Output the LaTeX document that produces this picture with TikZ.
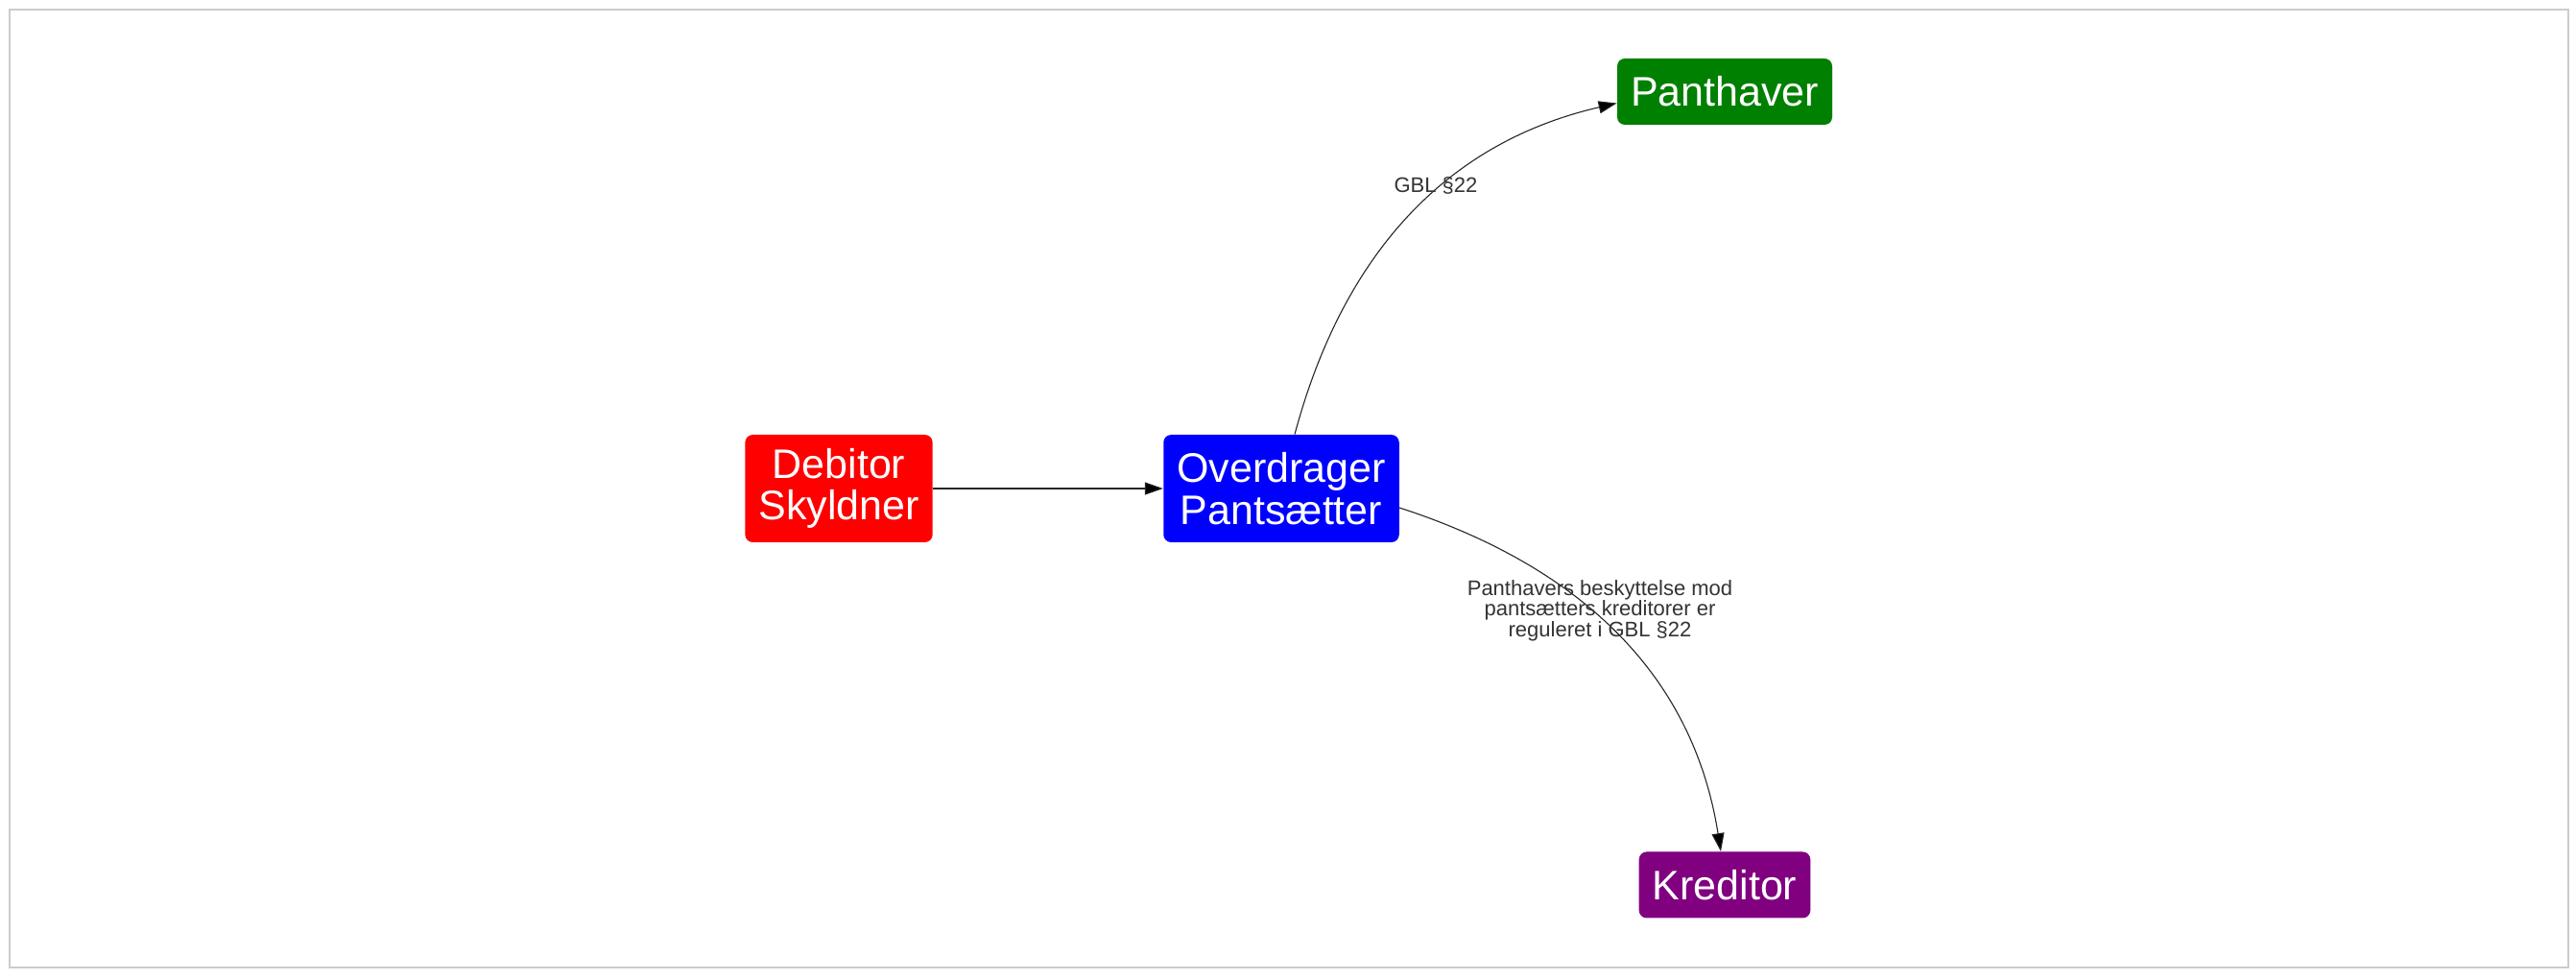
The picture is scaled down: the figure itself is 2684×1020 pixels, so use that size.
\documentclass[tikz,border=0pt]{standalone}
\usepackage{fontspec}
\setmainfont{Liberation Sans}
\usetikzlibrary{arrows.meta}
\definecolor{webgreen}{RGB}{0,128,0}
\definecolor{webpurple}{RGB}{128,0,128}
\definecolor{framegray}{RGB}{204,204,204}
\definecolor{notegray}{RGB}{51,51,51}

\begin{document}
\begin{tikzpicture}[x=0.5pt,y=-0.5pt]
		\tikzstyle{Party}	= [rounded corners=4pt, text=white, inner xsep=7pt, inner ysep=0pt, align=center, font=\fontsize{21.5}{21.8}\selectfont]
		\tikzstyle{OneLine}	= [minimum height=34.5pt]
		\tikzstyle{TwoLine}	= [minimum height=56pt]
		\tikzstyle{Rel}		= [black!85, line width=0.55pt, -{Triangle[length=9.5pt,width=6.5pt,fill=black]}]
		\tikzstyle{Note}	= [text=notegray, align=center, inner sep=0pt, font=\fontsize{11}{10.75}\selectfont]

		\useasboundingbox (0,0) rectangle (2684,1020);
		\draw [framegray, line width=0.75pt] (10,10) rectangle (2676,1008);

		\node (debitor) at (874,509) [Party][TwoLine, fill=red] {Debitor\\Skyldner};
		\node (over) at (1335,509) [Party][TwoLine, fill=blue] {Overdrager\\Pantsætter};
		\node (panthaver) at (1797,95.5) [Party][OneLine, fill=webgreen] {Panthaver};
		\node (kreditor) at (1797,922) [Party][OneLine, fill=webpurple] {Kreditor};

		\draw [Rel] (debitor) to (over);
		\draw [Rel] ([xshift=7pt]over.north) to [out=75, in=193] ([yshift=-6pt]panthaver.west);
		\draw [Rel] ([yshift=-10pt]over.east) to [out=-18, in=99] ([xshift=-2pt]kreditor.north);

		\node (gbl) at (1496,193) [Note] {GBL §22};
		\node (gblnote) at (1667,636) [Note] {Panthavers beskyttelse mod\\pantsætters kreditorer er\\reguleret i GBL §22};
	\end{tikzpicture}
\end{document}
